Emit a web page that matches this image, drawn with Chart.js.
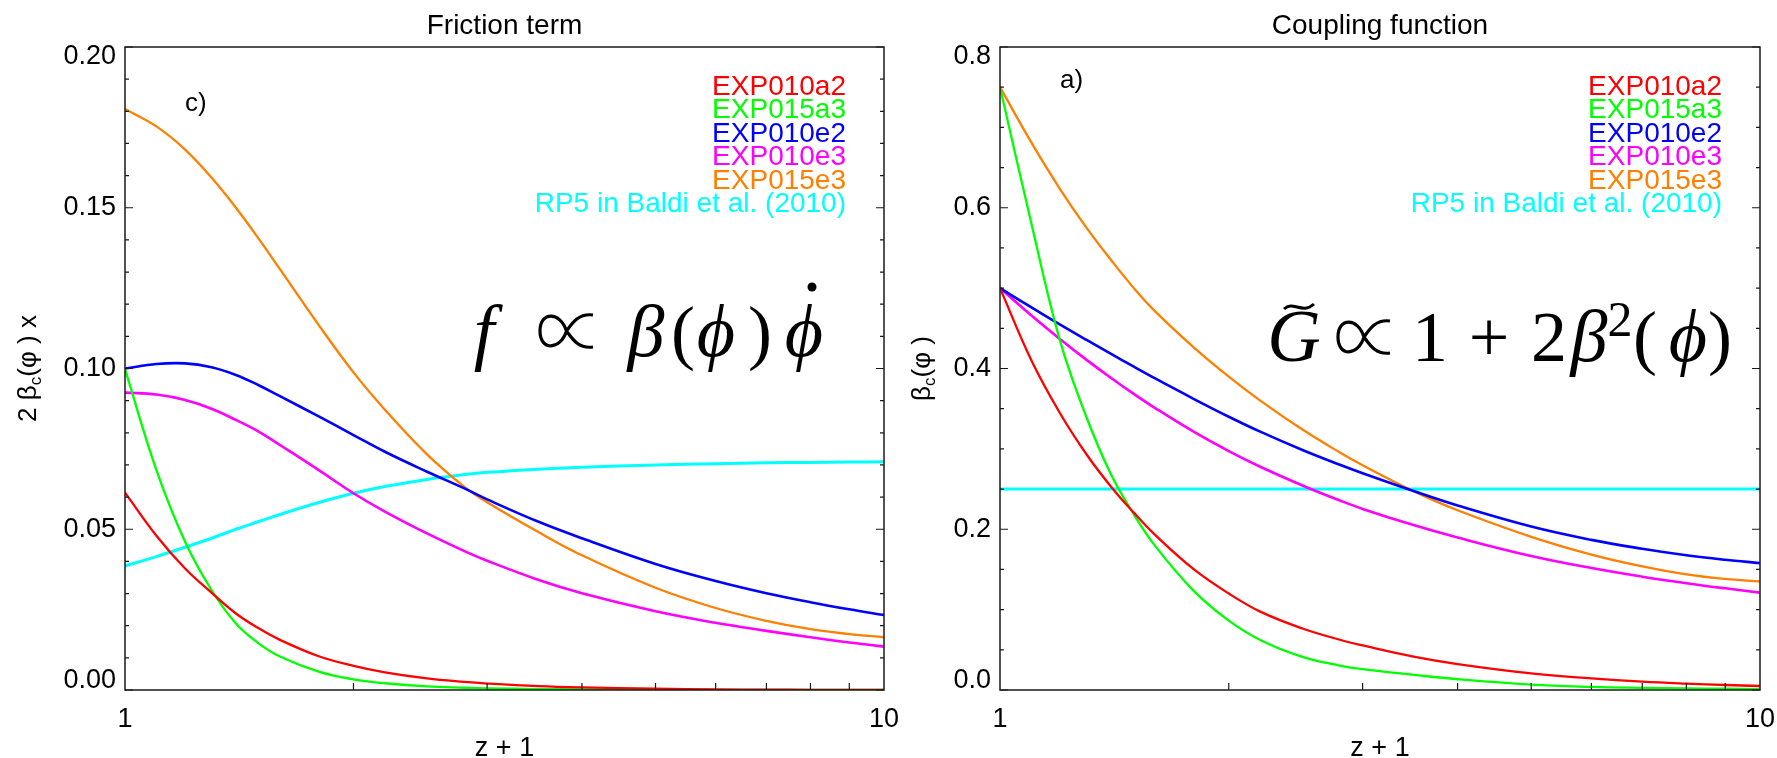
<!DOCTYPE html>
<html>
<head>
<meta charset="utf-8">
<script src="https://cdn.jsdelivr.net/npm/chart.js@4.4.1/dist/chart.umd.min.js"></script>
<style>
  html, body { margin: 0; padding: 0; background: #fff; }
  #wrap { position: relative; width: 1777px; height: 758px; overflow: hidden; }
  canvas { position: absolute; top: 0; }
</style>
</head>
<body>
<div id="wrap">
  <canvas id="friction" width="912" height="758" style="left:0;width:912px;height:758px"></canvas>
  <canvas id="coupling" width="887" height="758" style="left:890px;width:887px;height:758px"></canvas>
</div>
<script>
// z + 1 sample points (log axis 1..10)
const zPlusOne = [1, 1.1, 1.2, 1.3, 1.4, 1.5, 1.6, 1.8, 2, 2.2, 2.5, 2.8, 3, 3.5, 4, 5, 6, 7, 8, 9, 10];

const seriesNames = ['EXP010a2', 'EXP015a3', 'EXP010e2', 'EXP010e3', 'EXP015e3', 'RP5 in Baldi et al. (2010)'];
const seriesColors = ['#ff0000', '#00ff00', '#0000ff', '#ff00ff', '#ff7f00', '#00ffff'];
const seriesWidths = [2.3, 2.3, 2.6, 2.6, 2.3, 3];

// friction term 2 beta_c(phi) x
const fricEXP010a2 = [0.0614, 0.0480, 0.0378, 0.0303, 0.0238, 0.0192, 0.0156, 0.0105, 0.0075, 0.0055, 0.0036, 0.0025, 0.0020, 0.0012, 0.0008, 0.0004, 0.0002, 0.0001, 0.00006, 0.00003, 0.00002];
const fricEXP015a3 = [0.0998, 0.0684, 0.0461, 0.0311, 0.0207, 0.0145, 0.0104, 0.0057, 0.0033, 0.0021, 0.0011, 0.0007, 0.0005, 0.0003, 0.0002, 0.0001, 0.00005, 0.00003, 0.00002, 0.00001, 0.00001];
const fricEXP010e2 = [0.1000, 0.1014, 0.1016, 0.1004, 0.0980, 0.0948, 0.0914, 0.0851, 0.0793, 0.0741, 0.0679, 0.0627, 0.0593, 0.0524, 0.0472, 0.0392, 0.0339, 0.0301, 0.0273, 0.0251, 0.0233];
const fricEXP010e3 = [0.0925, 0.0919, 0.0902, 0.0875, 0.0840, 0.0804, 0.0762, 0.0684, 0.0612, 0.0555, 0.0487, 0.0432, 0.0402, 0.0343, 0.0301, 0.0245, 0.0209, 0.0184, 0.0164, 0.0148, 0.0135];
const fricEXP015e3 = [0.1807, 0.1753, 0.1681, 0.1594, 0.1500, 0.1404, 0.1309, 0.1135, 0.0988, 0.0872, 0.0733, 0.0632, 0.0584, 0.0492, 0.0419, 0.0318, 0.0255, 0.0215, 0.0189, 0.0174, 0.0164];
const fricRP5      = [0.0386, 0.0415, 0.0444, 0.0472, 0.0500, 0.0524, 0.0546, 0.0583, 0.0612, 0.0633, 0.0655, 0.0670, 0.0677, 0.0687, 0.0693, 0.0700, 0.0704, 0.0707, 0.0708, 0.0709, 0.0710];

// coupling function beta_c(phi)
const coupEXP010a2 = [0.500, 0.410, 0.344, 0.293, 0.253, 0.2207, 0.193, 0.150, 0.120, 0.0975, 0.0765, 0.0625, 0.0555, 0.0415, 0.0323, 0.0207, 0.0145, 0.0104, 0.0079, 0.0062, 0.0050];
const coupEXP015a3 = [0.750, 0.580, 0.434, 0.339, 0.268, 0.2185, 0.1793, 0.123, 0.0863, 0.0623, 0.0412, 0.0304, 0.0259, 0.0189, 0.0134, 0.0067, 0.0039, 0.0027, 0.0020, 0.0016, 0.0012];
const coupEXP010e2 = [0.500, 0.476, 0.4546, 0.4355, 0.4181, 0.4022, 0.3876, 0.362, 0.340, 0.3214, 0.2986, 0.2802, 0.2697, 0.2476, 0.2296, 0.2034, 0.1868, 0.1757, 0.1676, 0.1620, 0.1579];
const coupEXP010e3 = [0.500, 0.466, 0.4365, 0.4107, 0.3882, 0.3684, 0.3508, 0.3211, 0.2973, 0.2778, 0.2545, 0.2358, 0.2253, 0.2052, 0.1897, 0.1667, 0.1517, 0.1410, 0.1329, 0.1265, 0.1212];
const coupEXP015e3 = [0.750, 0.681, 0.623, 0.575, 0.535, 0.500, 0.471, 0.426, 0.3898, 0.360, 0.324, 0.2955, 0.2796, 0.2474, 0.2236, 0.1906, 0.1685, 0.1538, 0.1439, 0.1383, 0.1351];
const coupRP5      = [0.25, 0.25, 0.25, 0.25, 0.25, 0.25, 0.25, 0.25, 0.25, 0.25, 0.25, 0.25, 0.25, 0.25, 0.25, 0.25, 0.25, 0.25, 0.25, 0.25, 0.25];

const SANS = "'Liberation Sans', Arial, Helvetica, sans-serif";
const SERIF = "'Liberation Serif', 'DejaVu Serif', serif";
const mathIt = 'italic 74px ' + SERIF;
const mathRm = '72px ' + SERIF;

// decorations per panel (formula glyph centres in page x, offsetX = canvas left)
const panelSettings = {
  friction: {
    offsetX: 0,
    title: 'Friction term',
    tag: 'c)', tagX: 185, tagY: 111,
    yMax: 0.2, yMajor: 0.05, yMinor: 0.01, yDecimals: 2,
    yTitleX: 29,
    yTitle: [
      { t: '2 β', font: '26px ' + SANS },
      { t: 'c', font: '17px ' + SANS, dy: 7 },
      { t: '(φ ) x', font: '26px ' + SANS }
    ],
    formula: [
      { t: 'f', x: 484, font: mathIt },
      { t: 'β', x: 646, font: mathIt },
      { t: '(', x: 683, font: mathRm },
      { t: 'ϕ', x: 716, font: mathIt },
      { t: ')', x: 760, font: mathRm },
      { t: 'ϕ', x: 804, font: mathIt }
    ],
    baseline: 356,
    propto: { x: 540, y: 331, w: 53, h: 36 },
    dot: { x: 812, y: 287 }
  },
  coupling: {
    offsetX: 890,
    title: 'Coupling function',
    tag: 'a)', tagX: 1060, tagY: 88,
    yMax: 0.8, yMajor: 0.2, yMinor: 0.05, yDecimals: 1,
    yTitleX: 923,
    yTitle: [
      { t: 'β', font: '26px ' + SANS },
      { t: 'c', font: '17px ' + SANS, dy: 7 },
      { t: '(φ )', font: '26px ' + SANS }
    ],
    formula: [
      { t: 'G', x: 1294, font: mathIt },
      { t: '1', x: 1430, font: mathRm },
      { t: '+', x: 1489, font: mathRm },
      { t: '2', x: 1549, font: mathRm },
      { t: 'β', x: 1589, font: mathIt },
      { t: '2', x: 1620, y: 336, font: '50px ' + SERIF },
      { t: '(', x: 1645, font: mathRm },
      { t: 'ϕ', x: 1688, font: mathIt },
      { t: ')', x: 1720, font: mathRm }
    ],
    baseline: 361,
    propto: { x: 1338, y: 337, w: 52, h: 36 },
    tilde: { x: 1284, y: 306, w: 30 }
  }
};

// thin "proportional to" sign drawn as a path
function drawPropto(ctx, x0, ym, w, h) {
  const y0 = ym - h / 2, y1 = ym + h / 2, xm = x0 + 0.5 * w, x1 = x0 + w;
  ctx.beginPath();
  ctx.moveTo(x1, y0 + 2);
  ctx.bezierCurveTo(x0 + 0.72 * w, y0, x0 + 0.6 * w, ym - 0.2 * h, xm, ym);
  ctx.bezierCurveTo(x0 + 0.38 * w, ym + 0.55 * h, x0, ym + 0.55 * h, x0, ym);
  ctx.bezierCurveTo(x0, ym - 0.55 * h, x0 + 0.38 * w, ym - 0.55 * h, xm, ym);
  ctx.bezierCurveTo(x0 + 0.6 * w, ym + 0.2 * h, x0 + 0.72 * w, y1, x1, y1 - 2);
  ctx.stroke();
}

const idlFrame = {
  id: 'idlFrame',
  afterDraw(chart) {
    const s = panelSettings[chart.canvas.id];
    const { ctx, chartArea: a, scales: { x, y } } = chart;
    const ox = s.offsetX;
    ctx.save();
    ctx.fillStyle = '#000';
    ctx.strokeStyle = '#1a1a1a';

    // box
    ctx.lineWidth = 1.5;
    ctx.strokeRect(a.left, a.top, a.right - a.left, a.bottom - a.top);

    // y ticks, both sides, pointing inward
    ctx.lineWidth = 1.2;
    const nMinor = Math.round(s.yMax / s.yMinor);
    const every = Math.round(s.yMajor / s.yMinor);
    ctx.beginPath();
    for (let i = 0; i <= nMinor; i++) {
      const py = y.getPixelForValue(i * s.yMinor);
      const len = i % every === 0 ? 8 : 4;
      ctx.moveTo(a.left, py); ctx.lineTo(a.left + len, py);
      ctx.moveTo(a.right, py); ctx.lineTo(a.right - len, py);
    }
    // x minor ticks on the bottom
    for (let k = 2; k <= 9; k++) {
      const px = x.getPixelForValue(k);
      ctx.moveTo(px, a.bottom); ctx.lineTo(px, a.bottom - 7);
    }
    ctx.stroke();

    // y tick labels
    ctx.font = '27px ' + SANS;
    ctx.textAlign = 'right';
    ctx.textBaseline = 'middle';
    const nMajor = Math.round(s.yMax / s.yMajor);
    for (let i = 0; i <= nMajor; i++) {
      const v = i * s.yMajor;
      let py = y.getPixelForValue(v);
      py = Math.min(Math.max(py, a.top + 10), a.bottom - 9);
      ctx.fillText(v.toFixed(s.yDecimals), a.left - 9, py);
    }

    // x tick labels and title
    ctx.textAlign = 'center';
    ctx.textBaseline = 'alphabetic';
    ctx.fillText('1', x.getPixelForValue(1), 727);
    ctx.fillText('10', x.getPixelForValue(10), 727);
    ctx.fillText('z + 1', (a.left + a.right) / 2, 756);

    // panel title
    ctx.font = '28px ' + SANS;
    ctx.fillText(s.title, (a.left + a.right) / 2, 34);

    // panel tag
    ctx.font = '26px ' + SANS;
    ctx.textAlign = 'left';
    ctx.fillText(s.tag, s.tagX - ox, s.tagY);

    // y title, rotated
    ctx.save();
    ctx.translate(s.yTitleX - ox, (a.top + a.bottom) / 2);
    ctx.rotate(-Math.PI / 2);
    let total = 0;
    s.yTitle.forEach(p => { ctx.font = p.font; total += ctx.measureText(p.t).width; });
    let u = -total / 2;
    ctx.textBaseline = 'middle';
    s.yTitle.forEach(p => {
      ctx.font = p.font;
      ctx.fillText(p.t, u, p.dy || 0);
      u += ctx.measureText(p.t).width;
    });
    ctx.restore();

    // legend as coloured text
    ctx.font = '28px ' + SANS;
    ctx.textAlign = 'right';
    ctx.textBaseline = 'alphabetic';
    seriesNames.forEach((name, i) => {
      ctx.fillStyle = seriesColors[i];
      ctx.fillText(name, a.right - 38, 95 + i * 23.4);
    });

    // formula
    ctx.fillStyle = '#000';
    ctx.strokeStyle = '#000';
    ctx.textAlign = 'center';
    s.formula.forEach(p => {
      ctx.font = p.font;
      ctx.fillText(p.t, p.x - ox, p.y || s.baseline);
    });
    ctx.lineWidth = 3.2;
    drawPropto(ctx, s.propto.x - ox, s.propto.y, s.propto.w, s.propto.h);
    if (s.dot) {
      ctx.beginPath();
      ctx.arc(s.dot.x - ox, s.dot.y, 4.5, 0, Math.PI * 2);
      ctx.fill();
    }
    if (s.tilde) {
      const t = s.tilde, tx = t.x - ox;
      ctx.lineWidth = 3;
      ctx.beginPath();
      ctx.moveTo(tx, t.y + 3);
      ctx.bezierCurveTo(tx + t.w * 0.3, t.y - 6, tx + t.w * 0.6, t.y + 9, tx + t.w, t.y - 2);
      ctx.stroke();
    }
    ctx.restore();
  }
};

function makeDatasets(seriesList) {
  return seriesList.map((vals, i) => ({
    label: seriesNames[i],
    data: vals.map((v, j) => ({ x: zPlusOne[j], y: v })),
    borderColor: seriesColors[i],
    borderWidth: seriesWidths[i],
    pointRadius: 0,
    fill: false,
    tension: 0.4
  }));
}

function makeChart(id, seriesList, yMax, yWidth, padRight) {
  return new Chart(document.getElementById(id), {
    type: 'line',
    data: { datasets: makeDatasets(seriesList) },
    options: {
      responsive: false,
      devicePixelRatio: 1,
      animation: false,
      events: [],
      layout: { padding: { top: 47, right: padRight, bottom: 0, left: 0 } },
      plugins: { legend: { display: false }, tooltip: { enabled: false } },
      scales: {
        x: {
          type: 'logarithmic', min: 1, max: 10,
          ticks: { display: false }, grid: { display: false }, border: { display: false },
          afterFit(scale) { scale.height = 68; }
        },
        y: {
          type: 'linear', min: 0, max: yMax,
          ticks: { display: false }, grid: { display: false }, border: { display: false },
          afterFit(scale) { scale.width = yWidth; }
        }
      }
    },
    plugins: [idlFrame]
  });
}

makeChart('friction',
  [fricEXP010a2, fricEXP015a3, fricEXP010e2, fricEXP010e3, fricEXP015e3, fricRP5],
  0.2, 125, 28);
makeChart('coupling',
  [coupEXP010a2, coupEXP015a3, coupEXP010e2, coupEXP010e3, coupEXP015e3, coupRP5],
  0.8, 110, 17);
</script>
</body>
</html>
